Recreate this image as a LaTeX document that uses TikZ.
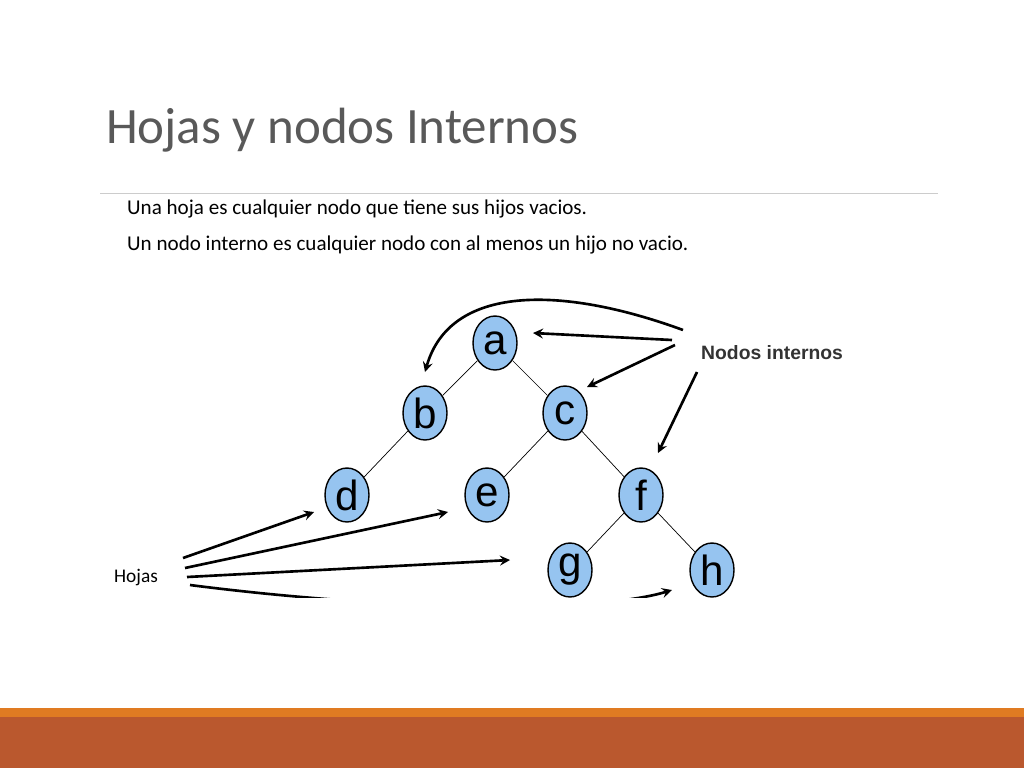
\documentclass[tikz,border=0pt]{standalone}
\usepackage{fontspec}
\setmainfont{Carlito}
\newfontfamily\arialfont{Liberation Sans}
\usetikzlibrary{shapes.geometric}
\definecolor{titlegray}{RGB}{89,89,89}
\definecolor{nodeblue}{RGB}{150,196,240}
\definecolor{barorange}{RGB}{224,123,34}
\definecolor{barbrown}{RGB}{186,88,46}
\tikzset{
  treenode/.style={ellipse,draw=black,thick,fill=nodeblue,minimum width=0.88cm,minimum height=1.08cm,inner sep=0pt,font=\arialfont\fontsize{24}{24}\selectfont},
  pointer/.style={->,>=stealth,line width=1.5pt},
}
\begin{document}
\begin{tikzpicture}[x=0.02cm,y=-0.02cm]
\useasboundingbox (0,0) rectangle (1024,768);
\fill[white] (0,0) rectangle (1024,768);
% bottom bars
\fill[barorange] (0,708) rectangle (1024,717);
\fill[barbrown] (0,717) rectangle (1024,768);
% title and text
\node[anchor=west,text=titlegray,font=\fontsize{29}{30}\selectfont] (title) at (100,130) {Hojas y nodos Internos};
\draw[gray!40] (100,193) -- (938,193);
\node[anchor=west,font=\fontsize{12}{14}\selectfont] (line1) at (121,209) {Una hoja es cualquier nodo que tiene sus hijos vacios.};
\node[anchor=west,font=\fontsize{12}{14}\selectfont] (line2) at (121,245) {Un nodo interno es cualquier nodo con al menos un hijo no vacio.};
% tree
\node[treenode] (a) at (495,343) {a};
\node[treenode] (b) at (425,413) {b};
\node[treenode] (c) at (565,413) {c};
\node[treenode] (d) at (347,495) {d};
\node[treenode] (e) at (487,495) {e};
\node[treenode] (f) at (641,495) {f};
\node[treenode] (g) at (570,570) {g};
\node[treenode] (h) at (712,570) {h};
\draw (a) -- (b);
\draw (a) -- (c);
\draw (b) -- (d);
\draw (c) -- (e);
\draw (c) -- (f);
\draw (f) -- (g);
\draw (f) -- (h);
% labels
\node[anchor=west,text=black!80,font=\arialfont\fontsize{11}{12}\selectfont\bfseries] (internos) at (695,353) {Nodos internos};
\node[anchor=west,font=\fontsize{11}{12}\selectfont] (hojas) at (108,577) {Hojas};
% arrow ends
\coordinate (ia) at (683,330); \coordinate (ib) at (672,340);
\coordinate (ic) at (675,345); \coordinate (id) at (697,372);
\coordinate (tb) at (425,372); \coordinate (ta) at (533,333);
\coordinate (tc) at (587,387); \coordinate (tf) at (658,453);
\coordinate (h1) at (183,558); \coordinate (h2) at (185,568);
\coordinate (h3) at (187,577); \coordinate (h4) at (190,585);
\coordinate (td) at (314,512); \coordinate (te) at (448,512);
\coordinate (tg) at (510,560); \coordinate (th) at (672,590);
\draw[pointer] (ia) .. controls (560,285) and (450,285) .. (tb);
\draw[pointer] (ib) -- (ta);
\draw[pointer] (ic) -- (tc);
\draw[pointer] (id) -- (tf);
\draw[pointer] (h1) -- (td);
\draw[pointer] (h2) -- (te);
\draw[pointer] (h3) -- (tg);
\begin{scope}
\clip (0,0) rectangle (1024,597);
\draw[pointer] (h4) .. controls (400,612) and (600,612) .. (th);
\end{scope}
\end{tikzpicture}
\end{document}
